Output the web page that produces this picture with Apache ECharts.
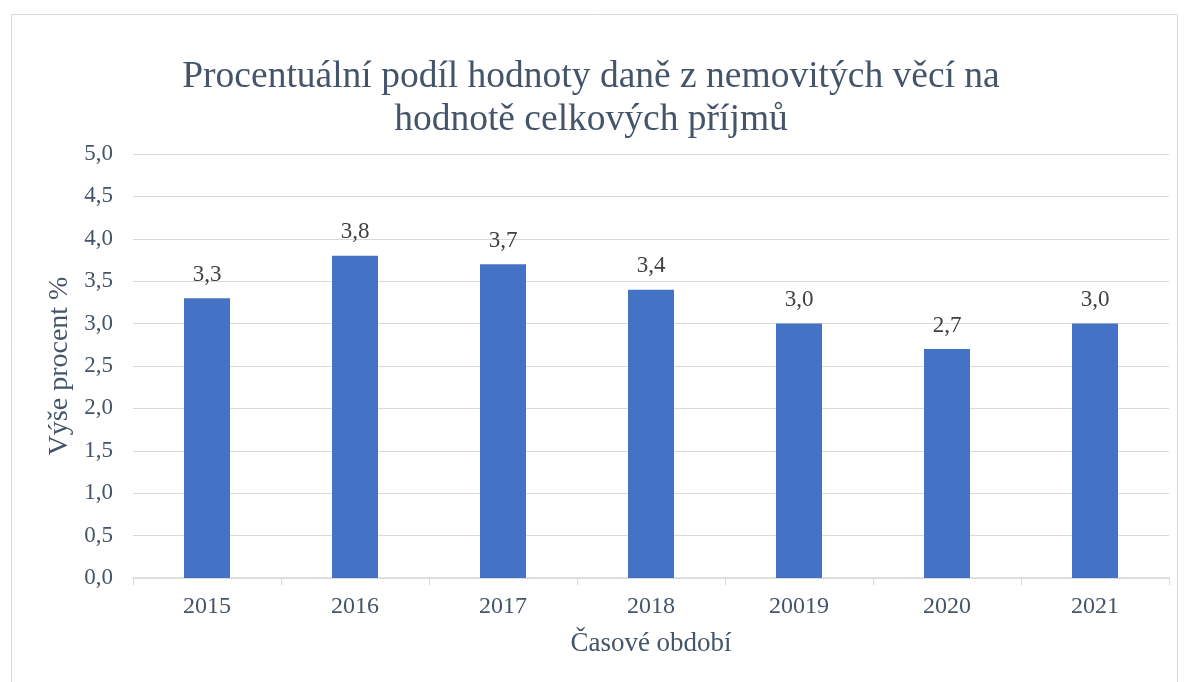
<!DOCTYPE html>
<html>
<head>
<meta charset="utf-8">
<script src="https://cdn.jsdelivr.net/npm/echarts@6/dist/echarts.min.js"></script>
<style>
  html, body { margin: 0; padding: 0; background: #fff; }
  #chart { width: 1188px; height: 682px; }
</style>
</head>
<body>
<div id="chart"></div>
<script>
const years = ['2015', '2016', '2017', '2018', '20019', '2020', '2021'];
const shares = [3.3, 3.8, 3.7, 3.4, 3.0, 2.7, 3.0];
const titleLines = ['Procentuální podíl hodnoty daně z nemovitých věcí na', 'hodnotě celkových příjmů'];

const font = '"Liberation Serif", "Times New Roman", serif';
const fmt = (v) => v.toFixed(1).replace('.', ',');

const chart = echarts.init(document.getElementById('chart'));

chart.setOption({
  animation: false,
  backgroundColor: '#fff',
  graphic: [{
    type: 'rect',
    shape: { x: 11.5, y: 14.5, width: 1166, height: 670 },
    style: { fill: 'none', stroke: '#d9d9d9', lineWidth: 1 }
  }],
  title: {
    text: titleLines.join('\n'),
    left: 586,
    top: 51,
    textAlign: 'center',
    textStyle: {
      fontFamily: font,
      fontSize: 37.5,
      fontWeight: 'normal',
      color: '#44546A',
      lineHeight: 43
    }
  },
  grid: { left: 133, right: 19, top: 154, bottom: 104, containLabel: false },
  xAxis: {
    type: 'category',
    data: years,
    name: 'Časové období',
    nameLocation: 'middle',
    nameGap: 52,
    nameTextStyle: { fontFamily: font, fontSize: 27, color: '#44546A' },
    axisLine: { lineStyle: { color: '#d9d9d9', width: 1.5 } },
    axisTick: { show: true, length: 7, lineStyle: { color: '#d9d9d9' } },
    axisLabel: { fontFamily: font, fontSize: 24, color: '#44546A', margin: 17 }
  },
  yAxis: {
    type: 'value',
    min: 0,
    max: 5,
    interval: 0.5,
    name: 'Výše procent %',
    nameLocation: 'middle',
    nameGap: 55,
    nameTextStyle: { fontFamily: font, fontSize: 28, color: '#44546A' },
    axisLine: { show: false },
    axisTick: { show: false },
    axisLabel: { fontFamily: font, fontSize: 23, color: '#44546A', margin: 20, formatter: fmt },
    splitLine: { lineStyle: { color: '#d9d9d9', width: 1 } }
  },
  series: [{
    type: 'bar',
    data: shares,
    barWidth: 46,
    itemStyle: { color: '#4472C4' },
    label: {
      show: true,
      position: 'top',
      distance: 12,
      fontFamily: font,
      fontSize: 23,
      color: '#404040',
      formatter: (p) => fmt(p.value)
    }
  }]
});
</script>
</body>
</html>
